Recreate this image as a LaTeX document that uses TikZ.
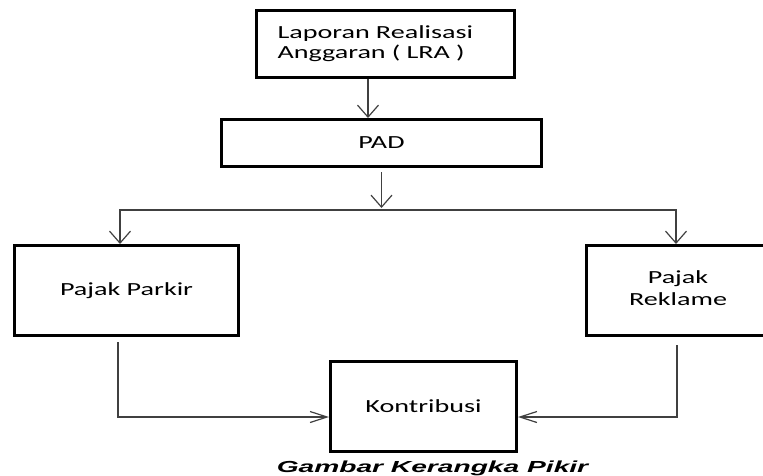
\documentclass[tikz,border=0pt]{standalone}
\usepackage{fontspec}
\setmainfont{Carlito}[FakeStretch=1.52]
\newfontfamily\captionfont{Liberation Sans}[FakeStretch=1.76]
\usetikzlibrary{arrows.meta, positioning}
\definecolor{wiregray}{rgb}{0.25, 0.25, 0.25}

\begin{document}
\begin{tikzpicture}[
        x=1pt, y=1pt,
        box/.style={rectangle, draw, line width=3pt, inner sep=0pt, align=center, font=\fontsize{18.5}{20}\selectfont},
        down/.style={draw, -{Straight Barb[length=12pt, width=21pt, line width=1.2pt]}, line width=1.2pt, wiregray},
        across/.style={draw, -{Straight Barb[length=17pt, width=11pt, line width=1.2pt]}, line width=1.2pt, wiregray},
        wire/.style={draw, line width=1.2pt, wiregray},
        caption/.style={inner sep=0pt, font=\captionfont\bfseries\itshape\fontsize{16}{18}\selectfont}
        ]
        \useasboundingbox (0,0) rectangle (763,-475);

        % Nodes
        \node (lra) [box, minimum width=258pt, minimum height=67pt, text width=216pt, align=left] at (385.5,-44) {Laporan Realisasi\\Anggaran ( LRA )};
        \node (pad) [box, minimum width=320pt, minimum height=47pt, below=39pt of lra, xshift=-4pt] {PAD};
        \node (parkir) [box, minimum width=224pt, minimum height=90pt, below=76pt of pad, xshift=-255pt] {Pajak Parkir};
        % box runs off the right edge of the page
        \node (reklame) [box, minimum width=213pt, minimum height=90pt, below=76pt of pad, xshift=311.5pt] {\begin{tabular}{@{}c@{}}Pajak\\[2pt]Reklame\end{tabular}\hspace*{30pt}};
        \node (kontribusi) [box, minimum width=186pt, minimum height=90pt, below=23pt of parkir, xshift=297pt] {Kontribusi};
        \node (judul) [caption, anchor=base] at (432.5,-472) {Gambar Kerangka Pikir};
        \coordinate (split) at ([yshift=-42pt]pad.south);

        % Arrows
        \draw [down] ([xshift=-17.5pt]lra.south) -- ([xshift=-17.5pt]lra.south |- pad.north);
        \draw [down, shorten <=4pt] (pad.south) -- ([yshift=2pt]split);
        \draw [down] (split) -| ([xshift=-6.5pt]parkir.north);
        \draw [down] (split) -| ([xshift=-17pt]reklame.north);
        \draw [across, shorten <=5pt] ([xshift=-8.5pt]parkir.south) |- ([yshift=-10.5pt]kontribusi.west);
        \draw [across, shorten <=8pt] ([xshift=-16pt]reklame.south) |- ([yshift=-10.5pt]kontribusi.east);

    \end{tikzpicture}
\end{document}
